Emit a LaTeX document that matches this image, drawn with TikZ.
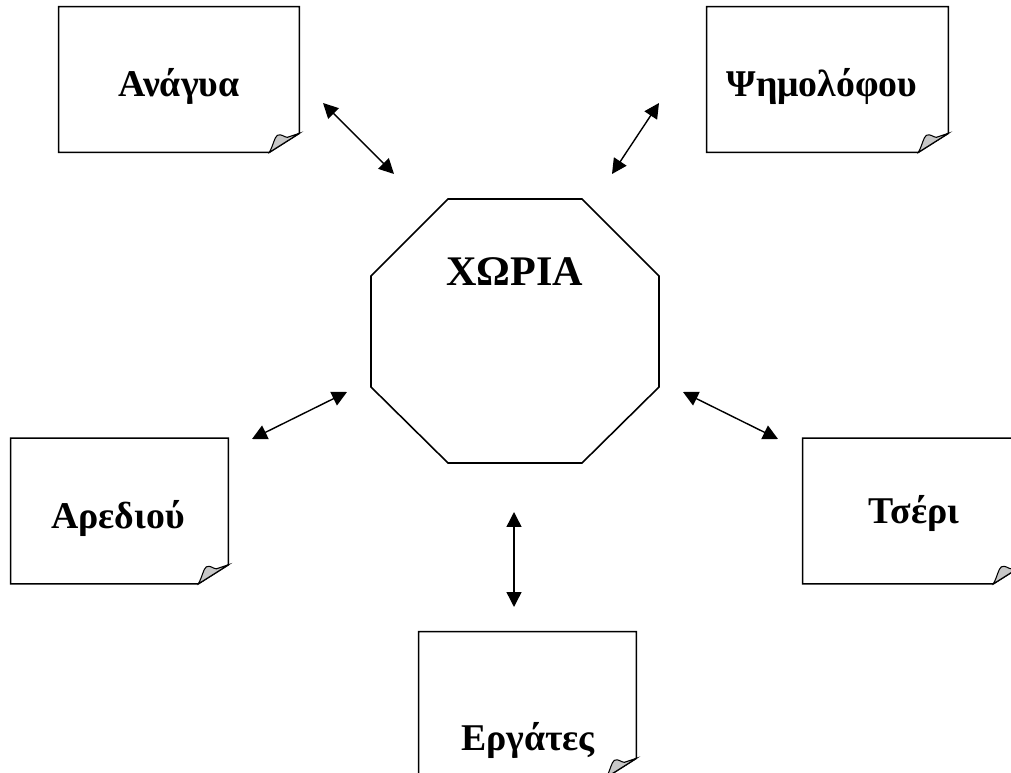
\documentclass[tikz,border=0pt]{standalone}
\usepackage{fontspec}
\setmainfont{Liberation Serif}
\usetikzlibrary{arrows.meta,positioning}

\begin{document}
\begin{tikzpicture}[x=0.02cm,y=-0.02cm,
  sheet/.style={inner sep=0pt,minimum height=2.9cm},
  place/.style={anchor=base,inner sep=0pt,font=\bfseries\fontsize{21.5}{26}\selectfont},
  link/.style={{Triangle[length=0.3cm,width=0.3cm]}-{Triangle[length=0.3cm,width=0.3cm]},line width=0.8pt}]
  \clip (0,0) rectangle (1011,773);
  % sheets round the villages
  \node[sheet,minimum width=4.8cm] (anagua) at (179,79.5) {};
  \node[sheet,minimum width=4.82cm] (psimolofou) at (827.5,79.5) {};
  \node[sheet,minimum width=4.34cm] (arediou) at (119.5,511) {};
  \node[sheet,minimum width=4.4cm] (tseri) at (913,511) {};
  \node[sheet,minimum width=4.34cm] (ergates) at (527.5,704.5) {};
  \foreach \s in {anagua,psimolofou,arediou,tseri,ergates} {
    \draw[line width=0.9pt] (\s.north west) -- (\s.north east) -- ([yshift=0.38cm]\s.south east)
      -- ([xshift=-0.6cm]\s.south east) -- (\s.south west) -- cycle;
    \begin{scope}[shift={(\s.south east)},x=1cm,y=1cm]
      \filldraw[fill=black!22,line width=0.6pt] (-0.6,0) .. controls (-0.52,0.14) and (-0.5,0.3) .. (-0.44,0.34)
        .. controls (-0.36,0.38) and (-0.3,0.3) .. (-0.24,0.3) -- (0,0.38) -- cycle;
    \end{scope}
  }
  % names
  \node[place] (anaguaT) at (179,97) {Ανάγυα};
  \node[place] (psimolofouT) at (822,97) {Ψημολόφου};
  \node[place] (arediouT) at (118,528) {Αρεδιού};
  \node[place] (tseriT) at (914,523) {Τσέρι};
  \node[place] (ergatesT) at (528,750) {Εργάτες};
  % centre
  \draw[line width=0.9pt] (448,199) -- (582,199) -- (659,276) -- (659,387) -- (582,463)
    -- (448,463) -- (371,387) -- (371,276) -- cycle;
  \node[place,font=\bfseries\fontsize{24}{29}\selectfont] (choria) at (514.5,286) {ΧΩΡΙΑ};
  % arrows
  \coordinate (a1) at (323,103);
  \coordinate (a2) at (394,174);
  \coordinate (p1) at (659,103);
  \coordinate (p2) at (612,174);
  \coordinate (r1) at (347,392);
  \coordinate (r2) at (252,439);
  \coordinate (t1) at (683,392);
  \coordinate (t2) at (778,439);
  \coordinate (e1) at (514,512);
  \coordinate (e2) at (514,607);
  \draw[link] (a1) -- (a2);
  \draw[link] (p1) -- (p2);
  \draw[link] (r1) -- (r2);
  \draw[link] (t1) -- (t2);
  \draw[link] (e1) -- (e2);
\end{tikzpicture}
\end{document}
